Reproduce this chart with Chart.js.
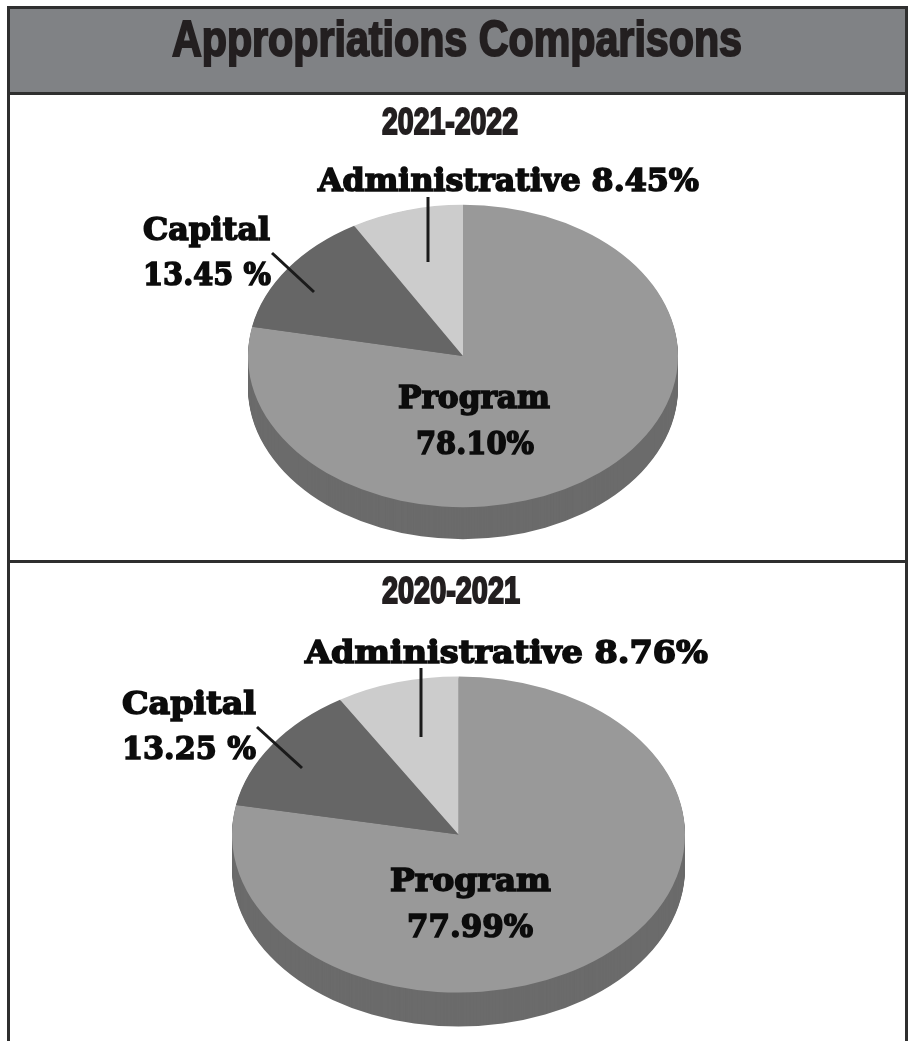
<!DOCTYPE html>
<html>
<head>
<meta charset="utf-8">
<title>Appropriations Comparisons</title>
<script src="https://cdn.jsdelivr.net/npm/chart.js@4"></script>
<style>
  html, body { margin: 0; padding: 0; background: #fff; }
  #page { position: relative; width: 908px; height: 1041px; overflow: hidden; }
  .frame { position: absolute; background: #2f2f2f; }
  #band { position: absolute; left: 8px; top: 8px; width: 898px; height: 84px; background: #808285; }
  canvas { position: absolute; }
  svg { position: absolute; left: 0; top: 0; }
  .txt { position: absolute; white-space: nowrap; transform-origin: 0 0; line-height: 1; color: #0c0c0c; }
  .head { font-family: "Liberation Sans Narrow", "Liberation Sans", sans-serif; font-weight: bold; color: #231f20; -webkit-text-stroke: 2px #231f20; }
  .lab { font-family: "DejaVu Serif", serif; font-weight: bold; -webkit-text-stroke: 1.6px #0c0c0c; }
</style>
</head>
<body>
<div id="page">
  <div id="band"></div>
  <div class="frame" style="left:7px;top:6px;width:901px;height:3px"></div>
  <div class="frame" style="left:7px;top:92px;width:901px;height:3px"></div>
  <div class="frame" style="left:7px;top:560px;width:901px;height:3px"></div>
  <div class="frame" style="left:7px;top:6px;width:3px;height:1035px"></div>
  <div class="frame" style="left:905px;top:6px;width:3px;height:1035px"></div>
  <canvas id="pie1" width="430" height="430" style="left:248px;top:141px"></canvas>
  <canvas id="pie2" width="453" height="453" style="left:232px;top:608px"></canvas>
  <svg width="908" height="1041">
    <g stroke="#1a1a1a" stroke-width="3">
      <line x1="428" y1="197" x2="428" y2="262"></line>
      <line x1="272" y1="253" x2="314" y2="292"></line>
      <line x1="421" y1="668" x2="421" y2="737"></line>
      <line x1="257" y1="727" x2="302" y2="768"></line>
    </g>
  </svg>
</div>
<script>
// Données
var categories = ['Program', 'Capital', 'Administrative'];
var periodes = ['2021-2022', '2020-2021'];
var valeurs2122 = [78.10, 13.45, 8.45];
var valeurs2021 = [77.99, 13.25, 8.76];
var couleurs = ['#999999', '#666666', '#cccccc'];
var couleurTranche = '#6b6b6b';

// Aplatit le camembert et dessine l'épaisseur en dessous
var plugin3d = {
  id: 'plugin3d',
  beforeDatasetsDraw: function (chart, args, opts) {
    var ctx = chart.ctx;
    var arcs = chart.getDatasetMeta(0).data;
    var cx = arcs[0].x, cy = arcs[0].y;
    ctx.fillStyle = couleurTranche;
    for (var d = opts.depth; d >= 1; d--) {
      arcs.forEach(function (a) {
        ctx.save();
        ctx.translate(cx, cy + d);
        ctx.scale(1, opts.k);
        ctx.beginPath();
        ctx.moveTo(0, 0);
        ctx.arc(0, 0, a.outerRadius, a.startAngle, a.endAngle);
        ctx.closePath();
        ctx.fill();
        ctx.restore();
      });
    }
    ctx.save();
    ctx.translate(cx, cy);
    ctx.scale(1, opts.k);
    ctx.translate(-cx, -cy);
  },
  afterDatasetsDraw: function (chart) {
    chart.ctx.restore();
  }
};

function camembert(id, valeurs, k, depth) {
  return new Chart(document.getElementById(id).getContext('2d'), {
    type: 'pie',
    data: {
      labels: categories,
      datasets: [{ data: valeurs, backgroundColor: couleurs, borderWidth: 0 }]
    },
    options: {
      responsive: false,
      animation: false,
      layout: { padding: 0 },
      plugins: {
        legend: { display: false },
        tooltip: { enabled: false },
        plugin3d: { k: k, depth: depth }
      }
    },
    plugins: [plugin3d]
  });
}

camembert('pie1', valeurs2122, 0.703, 32);
camembert('pie2', valeurs2021, 0.698, 34);

// Texte réel, ajusté à la largeur voulue
function texte(str, cls, size, left, top, largeur) {
  var el = document.createElement('div');
  el.className = 'txt ' + cls;
  el.textContent = str;
  el.style.fontSize = size + 'px';
  el.style.left = left + 'px';
  el.style.top = top + 'px';
  document.getElementById('page').appendChild(el);
  el.style.transform = 'scaleX(' + (largeur / el.getBoundingClientRect().width) + ')';
}

function pct(v) { return v.toFixed(2) + '%'; }
function pctEsp(v) { return v.toFixed(2) + ' %'; }

texte('Appropriations Comparisons', 'head', 50, 172, 14, 570);
texte(periodes[0], 'head', 36, 382, 104, 136);
texte(periodes[1], 'head', 36, 382, 573, 138);

texte(categories[2] + ' ' + pct(valeurs2122[2]), 'lab', 31, 318, 165, 381);
texte(categories[1], 'lab', 31, 143, 214, 127);
texte(pctEsp(valeurs2122[1]), 'lab', 31, 143, 259, 128);
texte(categories[0], 'lab', 31, 398, 382, 152);
texte(pct(valeurs2122[0]), 'lab', 31, 416, 428, 118);

texte(categories[2] + ' ' + pct(valeurs2021[2]), 'lab', 32, 305, 636, 403);
texte(categories[1], 'lab', 32, 122, 687, 134);
texte(pctEsp(valeurs2021[1]), 'lab', 32, 122, 732, 134);
texte(categories[0], 'lab', 32, 390, 864, 161);
texte(pct(valeurs2021[0]), 'lab', 32, 407, 910, 126);
</script>
</body>
</html>
